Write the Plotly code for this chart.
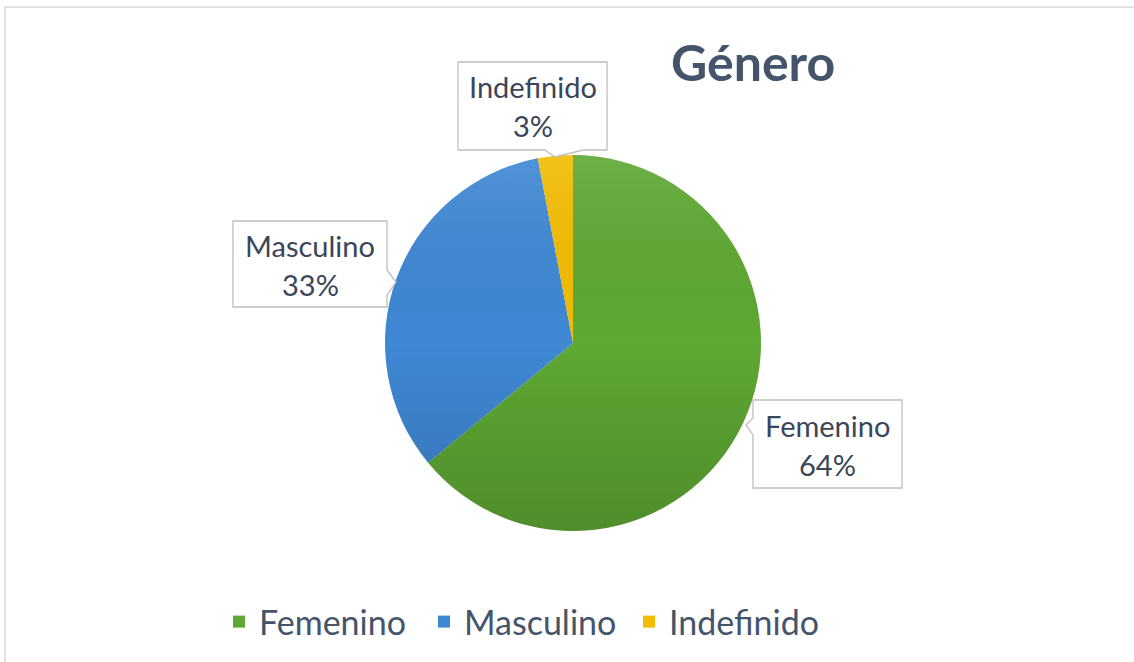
import base64
import plotly.graph_objects as go

# Chart data
categorias = ["Femenino", "Masculino", "Indefinido"]
porcentajes = [64, 33, 3]
colores = ["#5EA833", "#3F88D4", "#F2BC00"]

W, H = 1134, 662
FONT = "Lato, 'Open Sans', sans-serif"
TEXT_DARK = "#3A4658"
TEXT_SLATE = "#44546A"


def px(x):
    return x / W


def py(y):
    return 1 - y / H


# Pie geometry (pixels)
cx, cy, r = 573, 343, 188

fig = go.Figure(
    go.Pie(
        labels=categorias,
        values=porcentajes,
        sort=False,
        direction="clockwise",
        rotation=0,
        marker=dict(colors=colores, line=dict(width=0)),
        textinfo="none",
        hoverinfo="label+percent",
        domain=dict(x=[px(cx - r), px(cx + r)], y=[py(cy + r), py(cy - r)]),
    )
)

# Soft vertical shading across the pie
svg = (
    "<svg xmlns='http://www.w3.org/2000/svg' width='376' height='376'>"
    "<defs><linearGradient id='g' x1='0' y1='0' x2='0' y2='1'>"
    "<stop offset='0' stop-color='#ffffff' stop-opacity='0.10'/>"
    "<stop offset='0.5' stop-color='#000000' stop-opacity='0'/>"
    "<stop offset='1' stop-color='#000000' stop-opacity='0.16'/>"
    "</linearGradient></defs>"
    "<circle cx='188' cy='188' r='188' fill='url(#g)'/></svg>"
)
src = "data:image/svg+xml;base64," + base64.b64encode(svg.encode()).decode()

# Callout boxes: (left, top, right, bottom, pointer side, pointer spec)
callouts = {
    "Indefinido": dict(box=(458, 62, 607, 150), ptr=("bottom", 545, 583, 555, 157), center=533),
    "Masculino": dict(box=(233, 221, 387, 307), ptr=("right", 270, 295, 396, 282), center=310),
    "Femenino": dict(box=(753, 400, 902, 488), ptr=("left", 418, 435, 746, 425), center=827),
}

shapes = [
    # outer chart-area frame
    dict(type="rect", xref="paper", yref="paper",
         x0=px(5), x1=px(1140), y0=py(670), y1=py(7),
         line=dict(color="#D9D9D9", width=1.5), fillcolor="rgba(0,0,0,0)", layer="below"),
]
annotations = []

for cat, pct in zip(categorias, porcentajes):
    c = callouts[cat]
    l, t, rr, b = c["box"]
    side, a, bb, tx, ty = c["ptr"]
    if side == "bottom":
        pts = [(l, t), (rr, t), (rr, b), (bb, b), (tx, ty), (a, b), (l, b)]
    elif side == "right":
        pts = [(l, t), (rr, t), (rr, a), (tx, ty), (rr, bb), (rr, b), (l, b)]
    else:
        pts = [(l, t), (rr, t), (rr, b), (l, b), (l, bb), (tx, ty), (l, a)]
    path = "M" + " L".join(f"{px(x):.5f},{py(y):.5f}" for x, y in pts) + " Z"
    shapes.append(dict(type="path", xref="paper", yref="paper", path=path,
                       fillcolor="white", line=dict(color="#BFBFBF", width=1.3)))
    mid = (t + b) / 2
    annotations.append(dict(text=cat, x=px(c["center"]), y=py(mid - 19), xref="paper", yref="paper",
                            showarrow=False, xanchor="center", yanchor="middle",
                            font=dict(family=FONT, size=29, color=TEXT_DARK)))
    annotations.append(dict(text=f"{pct}%", x=px(c["center"]), y=py(mid + 20), xref="paper", yref="paper",
                            showarrow=False, xanchor="center", yanchor="middle",
                            font=dict(family=FONT, size=29, color=TEXT_DARK)))

# Title
annotations.append(dict(text="<b>Género</b>", x=px(753), y=py(62), xref="paper", yref="paper",
                        showarrow=False, xanchor="center", yanchor="middle",
                        font=dict(family=FONT, size=50, color=TEXT_SLATE)))

fig.update_layout(
    width=W,
    height=H,
    margin=dict(l=0, r=0, t=0, b=0),
    paper_bgcolor="white",
    plot_bgcolor="white",
    showlegend=True,
    legend=dict(
        orientation="h",
        x=px(219),
        xanchor="left",
        y=py(622),
        yanchor="middle",
        font=dict(family=FONT, size=34, color=TEXT_SLATE),
        itemwidth=30,
        entrywidth=160,
    ),
    shapes=shapes,
    annotations=annotations,
    images=[dict(source=src, xref="paper", yref="paper",
                 x=px(cx - r), y=py(cy - r), sizex=px(2 * r), sizey=2 * r / H,
                 xanchor="left", yanchor="top", sizing="stretch", layer="above")],
)

fig.write_html("out.html")
